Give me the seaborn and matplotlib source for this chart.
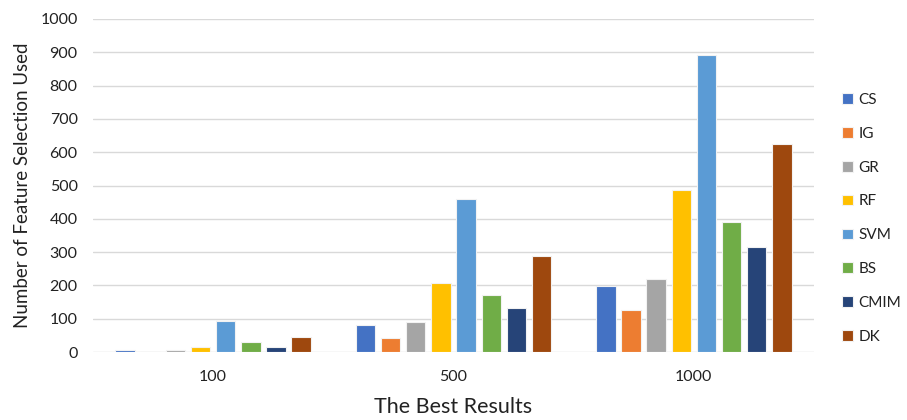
import matplotlib
matplotlib.use("Agg")
import matplotlib.pyplot as plt
import seaborn as sns
import pandas as pd

# Feature-selection counts per method for each "best results" setting
groups = ["100", "500", "1000"]
methods = ["CS", "IG", "GR", "RF", "SVM", "BS", "CMIM", "DK"]
cs = [5, 82, 198]
ig = [0, 41, 127]
gr = [5, 90, 220]
rf = [14, 207, 485]
svm = [92, 459, 893]
bs = [29, 172, 390]
cmim = [15, 131, 314]
dk = [46, 288, 624]

colors = ["#4472C4", "#ED7D31", "#A5A5A5", "#FFC000",
          "#5B9BD5", "#70AD47", "#264478", "#9E480E"]

series = dict(zip(methods, [cs, ig, gr, rf, svm, bs, cmim, dk]))
df = pd.DataFrame(
    [(g, m, series[m][i]) for m in methods for i, g in enumerate(groups)],
    columns=["group", "method", "value"],
)

sns.set_theme(style="white")
plt.rcParams["font.family"] = ["Lato", "DejaVu Sans"]

fig = plt.figure(figsize=(9.07, 4.2), dpi=100)
ax = fig.add_axes([93 / 907, 1 - 352 / 420, (814 - 93) / 907, (352 - 19) / 420])

sns.barplot(data=df, x="group", y="value", hue="method", order=groups,
            hue_order=methods, palette=colors, saturation=1, width=0.837, gap=0.23,
            edgecolor="#F2F2F2", linewidth=0.8, ax=ax, legend=True)

ax.set_ylim(0, 1000)
ax.set_yticks(range(0, 1001, 100))
ax.set_xlim(-0.5, 2.5)
ax.yaxis.grid(True, color="#D9D9D9", linewidth=1.0)
ax.set_axisbelow(True)
for s in ax.spines.values():
    s.set_visible(False)
ax.tick_params(axis="both", length=0, labelsize=11.5, colors="#222222")
ax.tick_params(axis="y", pad=11)
ax.tick_params(axis="x", pad=13)
ax.set_xlabel("The Best Results", fontsize=15.5, color="#222222", labelpad=9)
ax.set_ylabel("Number of Feature Selection Used", fontsize=13.5, color="#222222", labelpad=7)

handles, labels = ax.get_legend_handles_labels()
ax.legend_.remove()
fig.legend(handles, labels, loc="center left", bbox_to_anchor=(0.913, 0.48),
           frameon=False, fontsize=11, handlelength=0.7, handleheight=0.7,
           handletextpad=0.4, labelspacing=1.3, labelcolor="#222222")

fig.savefig("out.png", dpi=100)
